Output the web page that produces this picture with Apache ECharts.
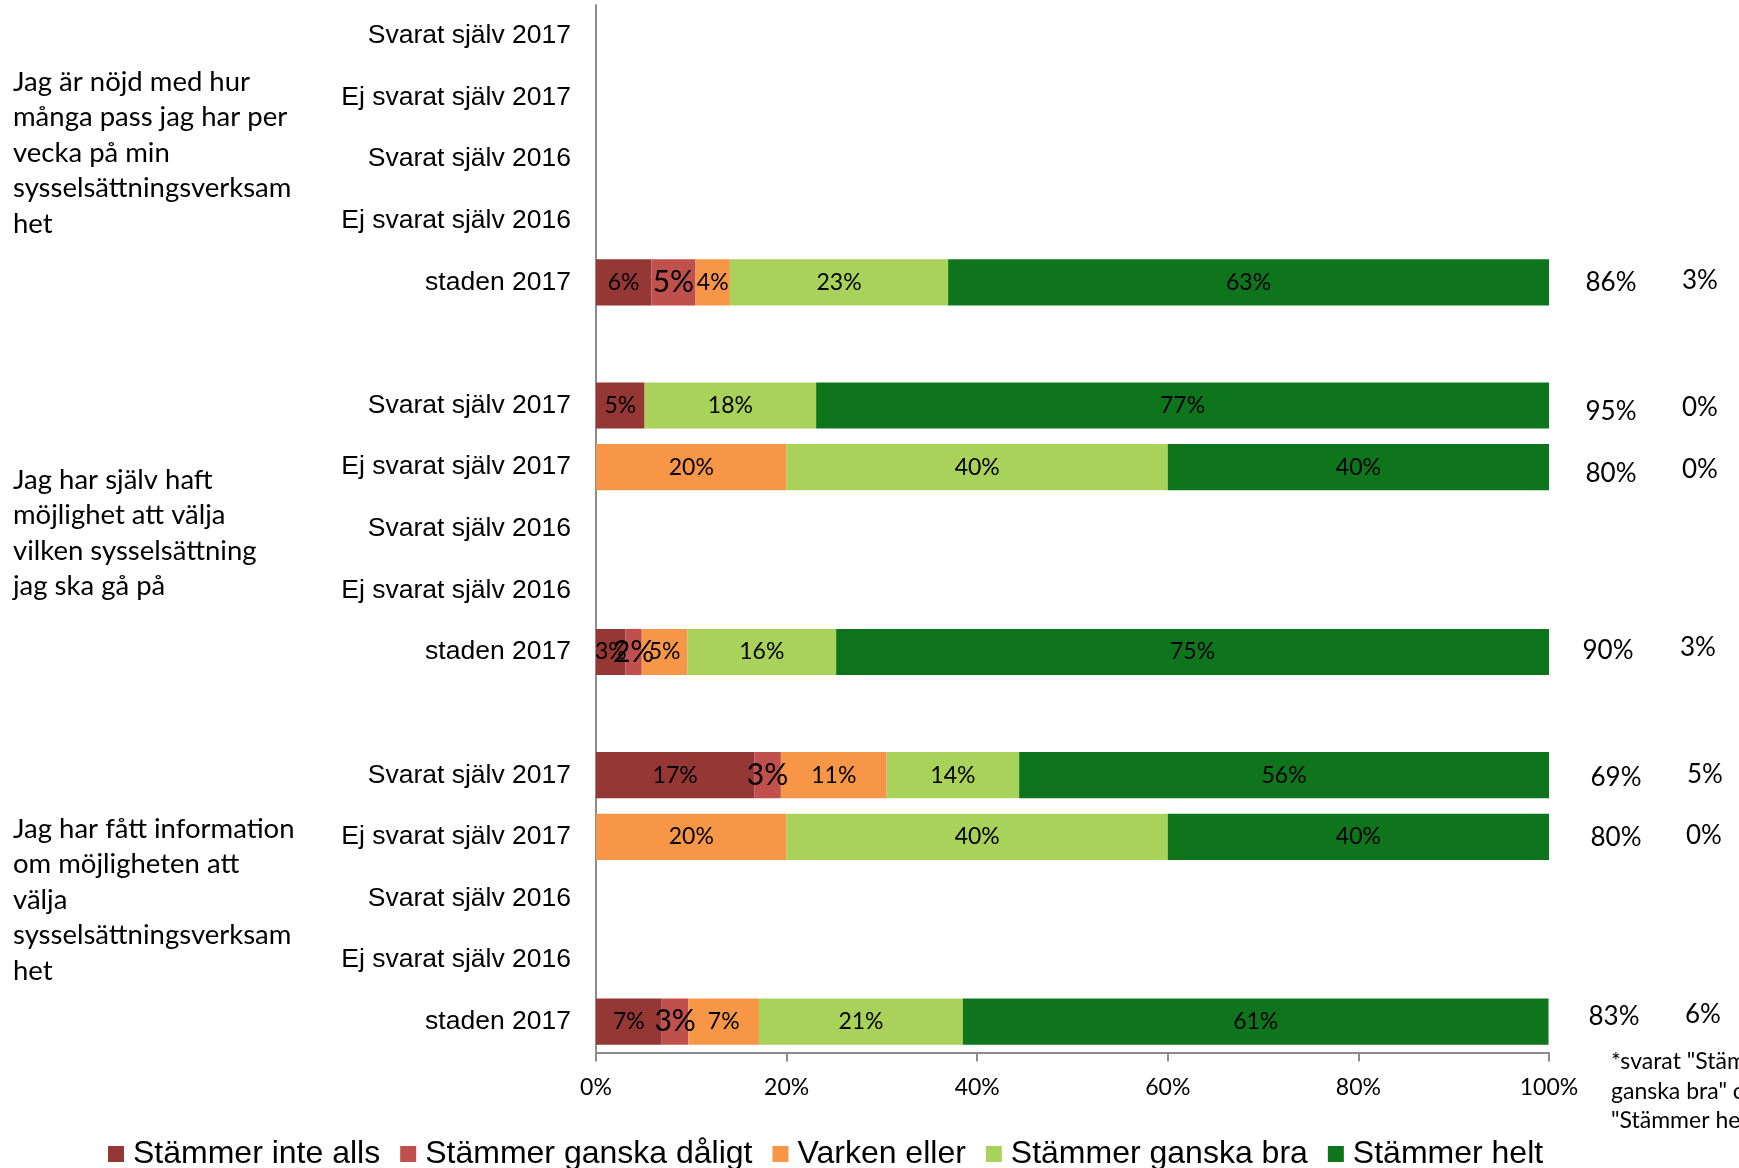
<!DOCTYPE html>
<html>
<head>
<meta charset="utf-8">
<script src="https://cdn.jsdelivr.net/npm/echarts@6/dist/echarts.min.js"></script>
<style>
  html, body { margin: 0; padding: 0; background: #fff; }
  #chart { width: 1739px; height: 1168px; }
</style>
</head>
<body>
<div id="chart"></div>
<script>
// Row keys: "group|label"; empty label rows separate the three statements.
const categories = [
  'g1|Svarat själv 2017', 'g1|Ej svarat själv 2017', 'g1|Svarat själv 2016', 'g1|Ej svarat själv 2016', 'g1|staden 2017',
  's1|',
  'g2|Svarat själv 2017', 'g2|Ej svarat själv 2017', 'g2|Svarat själv 2016', 'g2|Ej svarat själv 2016', 'g2|staden 2017',
  's2|',
  'g3|Svarat själv 2017', 'g3|Ej svarat själv 2017', 'g3|Svarat själv 2016', 'g3|Ej svarat själv 2016', 'g3|staden 2017'
];

const seriesNames = ['Stämmer inte alls', 'Stämmer ganska dåligt', 'Varken eller', 'Stämmer ganska bra', 'Stämmer helt'];

// Share of answers (%) per row, one array per answer option
const stammerInteAlls     = [null, null, null, null, 5.8,  null, 5.1,  null, null, null, 3.1,  null, 16.6, null, null, null, 6.9];
const stammerGanskaDaligt = [null, null, null, null, 4.65, null, null, null, null, null, 1.7,  null, 2.8,  null, null, null, 2.8];
const varkenEller         = [null, null, null, null, 3.6,  null, null, 20,   null, null, 4.8,  null, 11.1, 20,   null, null, 7.4];
const stammerGanskaBra    = [null, null, null, null, 22.9, null, 18,   40,   null, null, 15.6, null, 13.9, 40,   null, null, 21.4];
const stammerHelt         = [null, null, null, null, 63.05,null, 76.9, 40,   null, null, 74.8, null, 55.6, 40,   null, null, 61.45];

// Summary columns to the right of the bars
const andelPositiva = [null, null, null, null, 86, null, 95, 80, null, null, 90, null, 69, 80, null, null, 83];
const andelOvriga   = [null, null, null, null, 3,  null, 0,  0,  null, null, 3,  null, 5,  0,  null, null, 6];

const xTicks = [0, 20, 40, 60, 80, 100];

const groupTitles = [
  ['Jag är nöjd med hur', 'många pass jag har per', 'vecka på min', 'sysselsättningsverksam', 'het'],
  ['Jag har själv haft', 'möjlighet att välja', 'vilken sysselsättning', 'jag ska gå på'],
  ['Jag har fått information', 'om möjligheten att', 'välja', 'sysselsättningsverksam', 'het']
];

const footnote = ['*svarat "Stämmer', 'ganska bra" och', '"Stämmer helt"'];

const colors = ['#953735', '#C0504D', '#F79646', '#A8D25A', '#0E751C'];
const values = [stammerInteAlls, stammerGanskaDaligt, varkenEller, stammerGanskaBra, stammerHelt];

const calibriLike = 'Lato, "Open Sans", sans-serif';
const arialLike = '"Liberation Sans", Arial, sans-serif';

// Hand-placed nudges (px) for the loose text boxes of the summary columns, by row
const summaryNudge = {
  4:  { dx1: 0,  dy1: 0,  dx2: 0,  dy2: -2 },
  6:  { dx1: 0,  dy1: 6,  dx2: 0,  dy2: 2 },
  7:  { dx1: 0,  dy1: 6,  dx2: 0,  dy2: 2 },
  10: { dx1: -3, dy1: -1, dx2: -2, dy2: -4 },
  12: { dx1: 5,  dy1: 2,  dx2: 5,  dy2: -1 },
  13: { dx1: 5,  dy1: 1,  dx2: 4,  dy2: -1 },
  16: { dx1: 3,  dy1: -5, dx2: 3,  dy2: -7 }
};

const chart = echarts.init(document.getElementById('chart'), null, { renderer: 'canvas' });

const series = seriesNames.map((name, i) => ({
  name: name,
  type: 'bar',
  stack: 'total',
  barCategoryGap: '25%',
  data: values[i],
  itemStyle: { color: colors[i] },
  label: {
    show: true,
    position: 'inside',
    color: '#000',
    fontFamily: calibriLike,
    fontSize: i === 1 ? 30 : 23,
    formatter: p => (p.value == null ? '' : Math.round(p.value) + '%')
  },
  emphasis: { disabled: true }
}));

chart.setOption({
  animation: false,
  backgroundColor: '#fff',
  grid: { left: 596, right: 190, top: 5, bottom: 115.5, containLabel: false },
  xAxis: {
    type: 'value',
    min: xTicks[0],
    max: xTicks[xTicks.length - 1],
    interval: 20,
    splitLine: { show: false },
    axisLine: { show: true, lineStyle: { color: '#8c8c8c', width: 2 } },
    axisTick: { show: true, length: 9, lineStyle: { color: '#8c8c8c', width: 2 } },
    axisLabel: {
      margin: 24,
      color: '#000',
      fontFamily: calibriLike,
      fontSize: 23,
      formatter: '{value}%'
    }
  },
  yAxis: {
    type: 'category',
    inverse: true,
    data: categories,
    axisLine: { show: true, lineStyle: { color: '#8c8c8c', width: 2 } },
    axisTick: { show: false },
    axisLabel: {
      margin: 25,
      color: '#000',
      fontFamily: arialLike,
      fontSize: 26.5,
      formatter: v => v.split('|')[1]
    }
  },
  legend: {
    left: 103,
    top: 1133,
    itemWidth: 16,
    itemHeight: 16,
    itemGap: 20,
    icon: 'rect',
    data: seriesNames,
    textStyle: { fontFamily: arialLike, fontSize: 32, color: '#000', padding: [0, 0, 0, 4] }
  },
  series: series
});

// Text that sits beside the plot: statement titles, summary columns and footnote
const graphics = [];
const groupTops = [64, 462, 811];
groupTitles.forEach((lines, g) => {
  graphics.push({
    type: 'text',
    left: 13,
    top: groupTops[g],
    style: {
      text: lines.join('\n'),
      font: '27.5px ' + calibriLike,
      fill: '#000',
      lineHeight: 35.5
    },
    silent: true
  });
});

categories.forEach((c, i) => {
  if (andelPositiva[i] == null) return;
  const y = chart.convertToPixel({ yAxisIndex: 0 }, i);
  const n = summaryNudge[i] || { dx1: 0, dy1: 0, dx2: 0, dy2: 0 };
  graphics.push({
    type: 'text',
    x: 1611 + n.dx1, y: y + n.dy1,
    style: { text: andelPositiva[i] + '%', font: '26px ' + calibriLike, fill: '#000', align: 'center', verticalAlign: 'middle' },
    silent: true
  });
  graphics.push({
    type: 'text',
    x: 1700 + n.dx2, y: y + n.dy2,
    style: { text: andelOvriga[i] + '%', font: '26px ' + calibriLike, fill: '#000', align: 'center', verticalAlign: 'middle' },
    silent: true
  });
});

graphics.push({
  type: 'text',
  x: 1611, y: 1047,
  style: { text: footnote.join('\n'), font: '23px ' + calibriLike, fill: '#000', lineHeight: 29.5 },
  silent: true
});

chart.setOption({ graphic: graphics });
</script>
</body>
</html>
